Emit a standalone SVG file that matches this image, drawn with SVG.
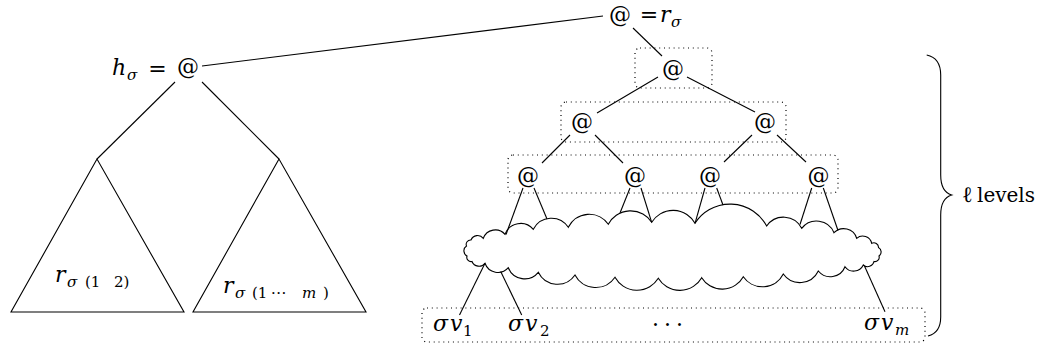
<svg xmlns="http://www.w3.org/2000/svg" width="1040" height="349" viewBox="0 0 1040 349" font-family="'DejaVu Serif',serif">
<style>
text{fill:#000}
.m{font-size:22px}
.mi{font-style:italic}
.s{font-size:15px}
.at{font-size:22px;text-anchor:middle}
.ln{stroke:#000;stroke-width:1.1;fill:none}
.box{stroke:#000;stroke-width:1.2;fill:none;stroke-dasharray:1 3.8}
</style>
<rect width="1040" height="349" fill="#fff"/>
<g id="connectors" class="ln">
<line x1="202" y1="66" x2="603" y2="16"/>
<line x1="175" y1="82" x2="97" y2="159"/>
<line x1="202" y1="82" x2="279" y2="159"/>
<line x1="633" y1="28" x2="662" y2="56"/>
<line x1="658" y1="77" x2="597" y2="113"/>
<line x1="687" y1="77" x2="755" y2="112"/>
<line x1="570" y1="135" x2="542" y2="163"/>
<line x1="595" y1="135" x2="623" y2="163"/>
<line x1="752" y1="135" x2="724" y2="162"/>
<line x1="777" y1="135" x2="806" y2="162"/>
<line x1="523" y1="188" x2="506" y2="234.5"/>
<line x1="534" y1="188" x2="547" y2="219"/>
<line x1="630" y1="188" x2="620" y2="213"/>
<line x1="641" y1="188" x2="651.7" y2="222.3"/>
<line x1="705" y1="188" x2="695" y2="223.3"/>
<line x1="716.7" y1="188" x2="723" y2="205"/>
<line x1="811.7" y1="188" x2="800" y2="224.5"/>
<line x1="823.3" y1="188" x2="838" y2="230.5"/>
<line x1="485" y1="263.3" x2="459.5" y2="315"/>
<line x1="500.7" y1="271.5" x2="521.7" y2="315"/>
<line x1="864.5" y1="266" x2="885" y2="311.7"/>
</g>
<g id="levels-box" class="box">
<rect x="635" y="48" width="77" height="40" rx="5"/>
<rect x="561" y="102" width="225" height="40" rx="5"/>
<rect x="508" y="155" width="330" height="38" rx="5"/>
<rect x="422" y="308" width="503" height="34" rx="5"/>
</g>
<g id="node-h">
<text class="m mi" x="112" y="75">h</text>
<text class="s mi" x="127" y="80">σ</text>
<text class="m" x="157.5" y="76" text-anchor="middle">=</text>
<text class="at" x="188" y="74">@</text>
</g>
<g id="node-r">
<text class="at" x="620" y="21.5">@</text>
<text class="m" x="649" y="22" text-anchor="middle">=</text>
<text class="m mi" x="660" y="22">r</text>
<text class="s mi" x="671" y="27">σ</text>
</g>
<g id="node-l1"><text class="at" x="673" y="75.5">@</text></g>
<g id="node-l2a"><text class="at" x="582" y="128.5">@</text></g>
<g id="node-l2b"><text class="at" x="765" y="128.5">@</text></g>
<g id="node-l3a"><text class="at" x="528" y="182.5">@</text></g>
<g id="node-l3b"><text class="at" x="635" y="182.5">@</text></g>
<g id="node-l3c"><text class="at" x="710" y="182.5">@</text></g>
<g id="node-l3d"><text class="at" x="818.5" y="182.5">@</text></g>
<g id="tri-left">
<path class="ln" d="M97,159 L11,312 L184,312 Z"/>
<text><tspan class="m mi" x="55" y="282">r</tspan><tspan class="s mi" x="67" y="287">σ</tspan><tspan class="s" x="85" y="287">(1</tspan><tspan class="s" x="114" y="287">2)</tspan></text>
</g>
<g id="tri-right">
<path class="ln" d="M279,159 L193,312 L366,312 Z"/>
<text><tspan class="m mi" x="223" y="293">r</tspan><tspan class="s mi" x="235" y="297.5">σ</tspan><tspan class="s" x="252" y="297.5">(1</tspan><tspan class="s" x="271" y="297.5" letter-spacing="0.5">···</tspan><tspan class="s mi" x="302" y="297.5">m</tspan><tspan class="s" x="323" y="297.5">)</tspan></text>
</g>
<g id="cloud">
<path class="ln" fill="#fff" d="M483.3,238.3 A12.8,12.8 0 0 1 505,234.3 A16.7,16.7 0 0 1 533.3,229.3 A20.3,20.3 0 0 1 568.3,227.3 A23.3,23.3 0 0 1 608.3,224.3 A25.2,25.2 0 0 1 651.7,222.3 A25.1,25.1 0 0 1 695,223.3 A41.6,41.6 0 0 1 766.7,226 A20.4,20.4 0 0 1 801.7,228.3 A18.9,18.9 0 0 1 834,232.7 A13.6,13.6 0 0 1 856.7,238.3 A9.2,9.2 0 0 1 871.7,243.3 A4.6,4.6 0 0 1 878.5,247.5 A5,5 0 0 1 879,256 A4.3,4.3 0 0 1 874,261.5 A6.5,6.5 0 0 1 863.3,265 A10.7,10.7 0 0 1 845,266.7 A15.7,15.7 0 0 1 818.3,271 A20.4,20.4 0 0 1 783.3,274 A23.3,23.3 0 0 1 743.3,276.7 A24.1,24.1 0 0 1 701.7,277.7 A25.2,25.2 0 0 1 658.3,278.3 A25.1,25.1 0 0 1 615,277.3 A23.3,23.3 0 0 1 575,275 A21.3,21.3 0 0 1 538.3,272.3 A17.6,17.6 0 0 1 508.3,267.7 A13.7,13.7 0 0 1 485,263.3 A7.6,7.6 0 0 1 472,261.5 A4.3,4.3 0 0 1 467,256 A5.8,5.8 0 0 1 466.5,246 A4.4,4.4 0 0 1 471,240 A7.2,7.2 0 0 1 483.3,238.3 Z"/>
</g>
<g id="node-v1"><text><tspan class="m mi" x="433" y="331">σ</tspan><tspan class="m mi" x="450" y="331">v</tspan><tspan class="s" x="463" y="336">1</tspan></text></g>
<g id="node-v2"><text><tspan class="m mi" x="508" y="331">σ</tspan><tspan class="m mi" x="525" y="331">v</tspan><tspan class="s" x="540" y="336">2</tspan></text></g>
<g id="node-dots"><text class="m" x="652" y="331.5" letter-spacing="5">···</text></g>
<g id="node-vm"><text><tspan class="m mi" x="864" y="330">σ</tspan><tspan class="m mi" x="881" y="330">v</tspan><tspan class="s mi" x="895" y="335">m</tspan></text></g>
<g id="brace">
<path class="ln" stroke-width="1.3" d="M926.7,55 C936,57 940.7,63 940.7,75 L940.7,175 C940.7,187 945,193 951.7,195 C945,197 940.7,203 940.7,215 L940.7,317 C940.7,329 936,334 928,336"/>
<text class="m" x="962" y="202">ℓ</text>
<text x="977" y="202" font-size="20">levels</text>
</g>
</svg>
